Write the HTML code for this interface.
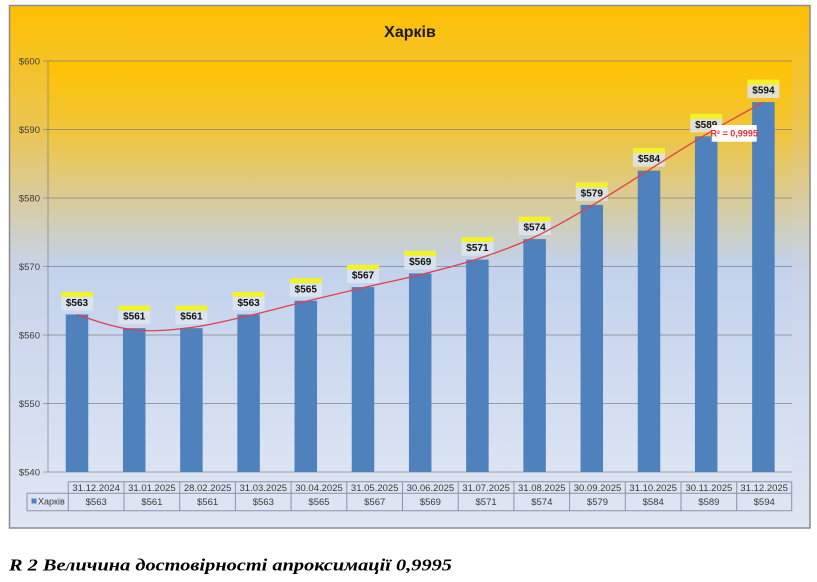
<!DOCTYPE html>
<html><head><meta charset="utf-8"><style>
html,body{margin:0;padding:0;background:#fff;}
svg{display:block;}
</style></head><body>
<svg width="817" height="582" viewBox="0 0 817 582" xmlns="http://www.w3.org/2000/svg" font-family="'Liberation Sans', 'Noto Sans CJK SC', sans-serif">
<defs>
<linearGradient id="outer" gradientUnits="userSpaceOnUse" x1="0" y1="5" x2="0" y2="528">
<stop offset="0" stop-color="#FFC000"/>
<stop offset="0.107" stop-color="#F6C226"/>
<stop offset="0.24" stop-color="#EBC552"/>
<stop offset="0.369" stop-color="#D8CB9E"/>
<stop offset="0.499" stop-color="#C8D3E8"/>
<stop offset="0.755" stop-color="#D3DDF0"/>
<stop offset="1" stop-color="#E0E6F3"/>
</linearGradient>
<linearGradient id="plot" gradientUnits="userSpaceOnUse" x1="0" y1="61" x2="0" y2="472">
<stop offset="0" stop-color="#FFC200"/>
<stop offset="0.168" stop-color="#F0C53A"/>
<stop offset="0.333" stop-color="#DACB95"/>
<stop offset="0.423" stop-color="#CBCFC6"/>
<stop offset="0.498" stop-color="#C3D2EC"/>
<stop offset="0.666" stop-color="#CAD7EE"/>
<stop offset="1" stop-color="#DCE4F3"/>
</linearGradient>
</defs>

<rect x="0" y="0" width="817" height="582" fill="#fff"/>
<rect x="9.5" y="5.5" width="800.5" height="522.5" fill="url(#outer)" stroke="#8C8C8C" stroke-width="1.5"/>
<rect x="48" y="61" width="744" height="411" fill="url(#plot)"/>

<text x="410" y="37" text-anchor="middle" font-size="16" font-weight="bold" fill="#1a1a1a">Харків</text>

<!-- gridlines -->
<g stroke="#7a7a7a" stroke-opacity="0.65" stroke-width="1">
<line x1="43" y1="61" x2="792" y2="61"/>
<line x1="43" y1="129.5" x2="792" y2="129.5"/>
<line x1="43" y1="198" x2="792" y2="198"/>
<line x1="43" y1="266.5" x2="792" y2="266.5"/>
<line x1="43" y1="335" x2="792" y2="335"/>
<line x1="43" y1="403.5" x2="792" y2="403.5"/>
<line x1="43" y1="472" x2="792" y2="472"/>
<line x1="48" y1="61" x2="48" y2="472"/>
</g>

<g font-size="9.5" fill="#3c3c3c" text-anchor="end">
<text x="40" y="64.5">$600</text>
<text x="40" y="133">$590</text>
<text x="40" y="201.5">$580</text>
<text x="40" y="270">$570</text>
<text x="40" y="338.5">$560</text>
<text x="40" y="407">$550</text>
<text x="40" y="475.5">$540</text>
</g>

<!-- bars -->
<g fill="#4F81BD">
<rect x="65.75" y="314.45" width="22.5" height="157.55"/>
<rect x="122.95" y="328.15" width="22.5" height="143.85"/>
<rect x="180.15" y="328.15" width="22.5" height="143.85"/>
<rect x="237.35" y="314.45" width="22.5" height="157.55"/>
<rect x="294.55" y="300.75" width="22.5" height="171.25"/>
<rect x="351.75" y="287.05" width="22.5" height="184.95"/>
<rect x="408.95" y="273.35" width="22.5" height="198.65"/>
<rect x="466.15" y="259.65" width="22.5" height="212.35"/>
<rect x="523.35" y="239.1" width="22.5" height="232.9"/>
<rect x="580.55" y="204.85" width="22.5" height="267.15"/>
<rect x="637.75" y="170.6" width="22.5" height="301.4"/>
<rect x="694.95" y="136.35" width="22.5" height="335.65"/>
<rect x="752.15" y="102.1" width="22.5" height="369.9"/>
</g>

<!-- data labels -->
<g font-size="10" font-weight="bold" fill="#111" text-anchor="middle">
<g transform="translate(77,314.45)"><rect x="-16" y="-22.5" width="32" height="5" fill="#F2F224"/><rect x="-16" y="-17.5" width="32" height="13.5" fill="#DDE5F0" fill-opacity="0.85"/><text x="0" y="-8.5">$563</text></g>
<g transform="translate(134.2,328.15)"><rect x="-16" y="-22.5" width="32" height="5" fill="#F2F224"/><rect x="-16" y="-17.5" width="32" height="13.5" fill="#DDE5F0" fill-opacity="0.85"/><text x="0" y="-8.5">$561</text></g>
<g transform="translate(191.4,328.15)"><rect x="-16" y="-22.5" width="32" height="5" fill="#F2F224"/><rect x="-16" y="-17.5" width="32" height="13.5" fill="#DDE5F0" fill-opacity="0.85"/><text x="0" y="-8.5">$561</text></g>
<g transform="translate(248.6,314.45)"><rect x="-16" y="-22.5" width="32" height="5" fill="#F2F224"/><rect x="-16" y="-17.5" width="32" height="13.5" fill="#DDE5F0" fill-opacity="0.85"/><text x="0" y="-8.5">$563</text></g>
<g transform="translate(305.8,300.75)"><rect x="-16" y="-22.5" width="32" height="5" fill="#F2F224"/><rect x="-16" y="-17.5" width="32" height="13.5" fill="#DDE5F0" fill-opacity="0.85"/><text x="0" y="-8.5">$565</text></g>
<g transform="translate(363,287.05)"><rect x="-16" y="-22.5" width="32" height="5" fill="#F2F224"/><rect x="-16" y="-17.5" width="32" height="13.5" fill="#DDE5F0" fill-opacity="0.85"/><text x="0" y="-8.5">$567</text></g>
<g transform="translate(420.2,273.35)"><rect x="-16" y="-22.5" width="32" height="5" fill="#F2F224"/><rect x="-16" y="-17.5" width="32" height="13.5" fill="#DDE5F0" fill-opacity="0.85"/><text x="0" y="-8.5">$569</text></g>
<g transform="translate(477.4,259.65)"><rect x="-16" y="-22.5" width="32" height="5" fill="#F2F224"/><rect x="-16" y="-17.5" width="32" height="13.5" fill="#DDE5F0" fill-opacity="0.85"/><text x="0" y="-8.5">$571</text></g>
<g transform="translate(534.6,239.1)"><rect x="-16" y="-22.5" width="32" height="5" fill="#F2F224"/><rect x="-16" y="-17.5" width="32" height="13.5" fill="#DDE5F0" fill-opacity="0.85"/><text x="0" y="-8.5">$574</text></g>
<g transform="translate(591.8,204.85)"><rect x="-16" y="-22.5" width="32" height="5" fill="#F2F224"/><rect x="-16" y="-17.5" width="32" height="13.5" fill="#DDE5F0" fill-opacity="0.85"/><text x="0" y="-8.5">$579</text></g>
<g transform="translate(649,170.6)"><rect x="-16" y="-22.5" width="32" height="5" fill="#F2F224"/><rect x="-16" y="-17.5" width="32" height="13.5" fill="#DDE5F0" fill-opacity="0.85"/><text x="0" y="-8.5">$584</text></g>
<g transform="translate(706.2,136.35)"><rect x="-16" y="-22.5" width="32" height="5" fill="#F2F224"/><rect x="-16" y="-17.5" width="32" height="13.5" fill="#DDE5F0" fill-opacity="0.85"/><text x="0" y="-8.5">$589</text></g>
<g transform="translate(763.4,102.1)"><rect x="-16" y="-22.5" width="32" height="5" fill="#F2F224"/><rect x="-16" y="-17.5" width="32" height="13.5" fill="#DDE5F0" fill-opacity="0.85"/><text x="0" y="-8.5">$594</text></g>
</g>

<!-- trendline -->
<path fill="none" stroke="#E0404A" stroke-width="1.3" d="M77,314.5 C96.07,321.15 115.13,327.73 134.2,329.9 C153.27,332.07 172.33,329.85 191.4,327.5 C210.47,325.15 229.53,320.15 248.6,315.8 C267.67,311.45 286.73,306.08 305.8,301.4 C324.87,296.72 343.93,292.15 363,287.7 C382.07,283.25 401.13,279.48 420.2,274.7 C439.27,269.92 458.33,265.28 477.4,259 C496.47,252.72 515.53,245.92 534.6,237 C553.67,228.08 572.73,216.68 591.8,205.5 C610.87,194.32 629.93,181.77 649,169.9 C668.07,158.03 687.13,145.6 706.2,134.3 C725.27,123 744.33,112.83 763.4,102.1"/>

<!-- R2 label -->
<rect x="711.7" y="125" width="45" height="16.7" fill="#fff"/>
<text x="734.2" y="136.6" text-anchor="middle" font-size="9" font-weight="bold" fill="#E8283C">R² = 0,9995</text>

<!-- data table -->
<g stroke="#8A94A6" stroke-width="1" fill="none">
<line x1="68.3" y1="481.7" x2="791.7" y2="481.7"/>
<line x1="27" y1="493.3" x2="791.7" y2="493.3"/>
<line x1="27" y1="510.7" x2="791.7" y2="510.7"/>
<line x1="27" y1="493.3" x2="27" y2="510.7"/>
<line x1="68.3" y1="481.7" x2="68.3" y2="510.7"/>
<line x1="124" y1="481.7" x2="124" y2="510.7"/>
<line x1="179.7" y1="481.7" x2="179.7" y2="510.7"/>
<line x1="235.4" y1="481.7" x2="235.4" y2="510.7"/>
<line x1="291.1" y1="481.7" x2="291.1" y2="510.7"/>
<line x1="346.8" y1="481.7" x2="346.8" y2="510.7"/>
<line x1="402.5" y1="481.7" x2="402.5" y2="510.7"/>
<line x1="458.2" y1="481.7" x2="458.2" y2="510.7"/>
<line x1="513.9" y1="481.7" x2="513.9" y2="510.7"/>
<line x1="569.6" y1="481.7" x2="569.6" y2="510.7"/>
<line x1="625.3" y1="481.7" x2="625.3" y2="510.7"/>
<line x1="681" y1="481.7" x2="681" y2="510.7"/>
<line x1="736.7" y1="481.7" x2="736.7" y2="510.7"/>
<line x1="791.7" y1="481.7" x2="791.7" y2="510.7"/>
</g>
<rect x="31.5" y="498.5" width="5" height="5" fill="#4F81BD"/>
<text x="38" y="504.5" font-size="9" fill="#3a3a3a">Харків</text>
<g font-size="9.5" fill="#3a3a3a" text-anchor="middle">
<text x="96.2" y="491">31.12.2024</text>
<text x="151.9" y="491">31.01.2025</text>
<text x="207.6" y="491">28.02.2025</text>
<text x="263.3" y="491">31.03.2025</text>
<text x="319" y="491">30.04.2025</text>
<text x="374.7" y="491">31.05.2025</text>
<text x="430.4" y="491">30.06.2025</text>
<text x="486.1" y="491">31.07.2025</text>
<text x="541.8" y="491">31.08.2025</text>
<text x="597.5" y="491">30.09.2025</text>
<text x="653.2" y="491">31.10.2025</text>
<text x="708.9" y="491">30.11.2025</text>
<text x="764.2" y="491">31.12.2025</text>
<text x="96.2" y="505">$563</text>
<text x="151.9" y="505">$561</text>
<text x="207.6" y="505">$561</text>
<text x="263.3" y="505">$563</text>
<text x="319" y="505">$565</text>
<text x="374.7" y="505">$567</text>
<text x="430.4" y="505">$569</text>
<text x="486.1" y="505">$571</text>
<text x="541.8" y="505">$574</text>
<text x="597.5" y="505">$579</text>
<text x="653.2" y="505">$584</text>
<text x="708.9" y="505">$589</text>
<text x="764.2" y="505">$594</text>
</g>

<!-- caption -->
<text x="9" y="570.5" font-family="'Liberation Serif', 'Noto Serif CJK SC', serif" font-size="17" font-weight="bold" font-style="italic" fill="#000" textLength="443" lengthAdjust="spacingAndGlyphs">R 2 Величина достовірності апроксимації 0,9995</text>
</svg>
</body></html>
